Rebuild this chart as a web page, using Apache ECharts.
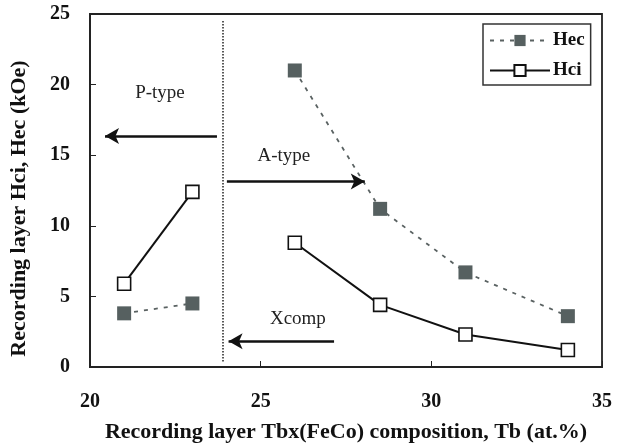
<!DOCTYPE html>
<html>
<head>
<meta charset="utf-8">
<script src="https://cdn.jsdelivr.net/npm/echarts@6/dist/echarts.min.js"></script>
<style>html,body{margin:0;padding:0;background:#fff}#c{width:625px;height:448px}</style>
</head>
<body>
<div id="c"></div>
<script>
// Data
const hecLeftX = [21, 23];
const hecLeftY = [3.8, 4.5];
const hecRightX = [26, 28.5, 31, 34];
const hecRightY = [21.0, 11.2, 6.7, 3.6];
const hciLeftX = [21, 23];
const hciLeftY = [5.9, 12.4];
const hciRightX = [26, 28.5, 31, 34];
const hciRightY = [8.8, 4.4, 2.3, 1.2];
const xTicks = [20, 25, 30, 35];
const yTicks = [0, 5, 10, 15, 20, 25];
const boundaryX = 23.9;
const annotations = [
  {text: 'P-type', x: 22.05, y: 19.38},
  {text: 'A-type', x: 25.68, y: 14.96},
  {text: 'Xcomp', x: 26.09, y: 3.37}
];
const arrows = [
  {from: [23.72, 16.36], to: [20.44, 16.36]},
  {from: [24.01, 13.13], to: [28.05, 13.13]},
  {from: [27.15, 1.83], to: [24.06, 1.83]}
];

const pairs = (xs, ys) => xs.map((x, i) => [x, ys[i]]);
const FONT = '"Liberation Serif", "Times New Roman", serif';

const hecStyle = {
  type: 'line', name: 'Hec', symbol: 'rect', symbolSize: 14,
  itemStyle: {color: '#566060', borderWidth: 0},
  lineStyle: {color: '#5a6262', width: 1.8, type: [4, 6]},
  emphasis: {disabled: true}, z: 3
};
const hciStyle = {
  type: 'line', name: 'Hci', symbol: 'rect', symbolSize: 13,
  itemStyle: {color: '#ffffff', borderColor: '#111', borderWidth: 1.6},
  lineStyle: {color: '#111', width: 2},
  emphasis: {disabled: true}, z: 4
};

const chart = echarts.init(document.getElementById('c'), null, {renderer: 'canvas'});
chart.setOption({
  animation: false,
  backgroundColor: '#fff',
  grid: {left: 90, right: 23, top: 14, bottom: 78, show: true, borderColor: '#222', borderWidth: 1.8},
  legend: {
    orient: 'vertical', left: 483, top: 24,
    data: ['Hec', 'Hci'],
    itemWidth: 60, itemHeight: 14, itemGap: 11,
    padding: [7, 6, 5, 6],
    borderColor: '#333', borderWidth: 1.5,
    textStyle: {fontFamily: FONT, fontWeight: 'bold', fontSize: 19, color: '#111', padding: [0, 0, 0, -2]},
    selectedMode: false
  },
  xAxis: {
    type: 'value', min: xTicks[0], max: xTicks[xTicks.length - 1], interval: 5,
    name: 'Recording layer Tbx(FeCo) composition, Tb (at.%)',
    nameLocation: 'middle', nameGap: 54,
    nameTextStyle: {fontFamily: FONT, fontWeight: 'bold', fontSize: 22, color: '#111'},
    axisLine: {show: true, lineStyle: {color: '#222', width: 1.8}},
    axisTick: {show: true, inside: true, length: 6, lineStyle: {color: '#222', width: 1}},
    axisLabel: {fontFamily: FONT, fontWeight: 'bold', fontSize: 20, color: '#111', margin: 25},
    splitLine: {show: false}
  },
  yAxis: {
    type: 'value', min: yTicks[0], max: yTicks[yTicks.length - 1], interval: 5,
    name: 'Recording layer Hci, Hec (kOe)',
    nameLocation: 'middle', nameGap: 60,
    nameTextStyle: {fontFamily: FONT, fontWeight: 'bold', fontSize: 22, color: '#111', padding: [0, 36, 0, 0]},
    axisLine: {show: true, lineStyle: {color: '#222', width: 1.8}},
    axisTick: {show: true, inside: true, length: 6, lineStyle: {color: '#222', width: 1}},
    axisLabel: {fontFamily: FONT, fontWeight: 'bold', fontSize: 20, color: '#111', margin: 20},
    splitLine: {show: false}
  },
  series: [
    Object.assign({}, hecStyle, {data: pairs(hecLeftX, hecLeftY)}),
    Object.assign({}, hecStyle, {data: pairs(hecRightX, hecRightY)}),
    Object.assign({}, hciStyle, {data: pairs(hciLeftX, hciLeftY)}),
    Object.assign({}, hciStyle, {data: pairs(hciRightX, hciRightY)}),
    {
      type: 'line', name: 'annot', data: [], silent: true, z: 2,
      markLine: {
        silent: true, animation: false,
        label: {show: false},
        emphasis: {disabled: true},
        data: [
          [{coord: [boundaryX, 24.5], symbol: 'none', lineStyle: {type: [1.5, 1.5], width: 1.5, color: '#222'}},
           {coord: [boundaryX, 0.3], symbol: 'none'}]
        ].concat(arrows.map(a => [
          {coord: a.from, symbol: 'none', lineStyle: {type: 'solid', width: 2.6, color: '#111'}},
          {coord: a.to, symbol: 'arrow', symbolSize: [12, 14]}
        ]))
      },
      markPoint: {
        silent: true, animation: false,
        symbol: 'circle', symbolSize: 1,
        itemStyle: {color: 'rgba(0,0,0,0)'},
        label: {show: true, position: 'inside', fontFamily: FONT, fontSize: 19, color: '#222', formatter: p => p.name},
        data: annotations.map(a => ({name: a.text, coord: [a.x, a.y]}))
      }
    }
  ]
});
</script>
</body>
</html>
